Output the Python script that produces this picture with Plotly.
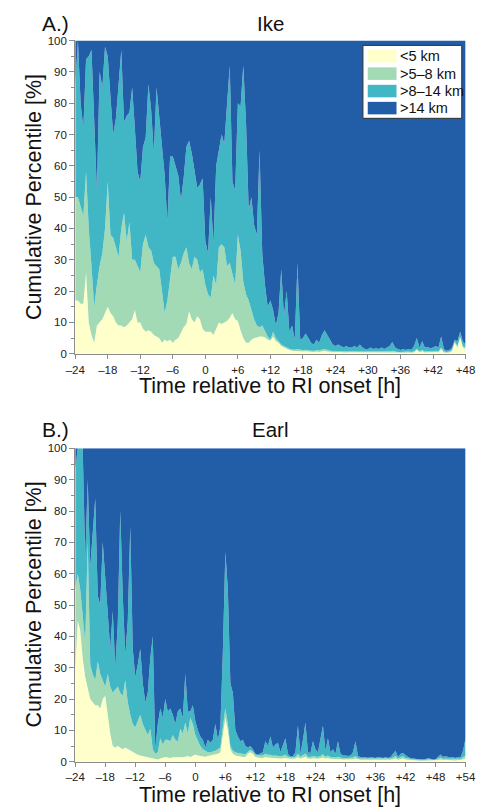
import numpy as np
import plotly.graph_objects as go

# ---------------- data ----------------
ike_time = np.arange(-24, 48.01, 0.5)
earl_time = np.arange(-24, 54.01, 0.5)

TOTAL = 100

# Ike cumulative percentiles (upper edge of each class)
ike_lt5 = [17, 17, 16, 16, 26, 10, 6, 3.5, 9, 10,
           11, 13, 15, 13, 12, 10, 9, 9, 8.5, 9,
           10, 11, 14, 10, 10, 8, 7, 7.5, 7, 6,
           5.5, 5, 3.5, 4.5, 4, 4.5, 3.5, 4.5, 5, 7,
           8.5, 9.5, 13.5, 11, 10, 12, 11, 8, 7,
           7, 7, 6, 8, 10, 9.5, 10, 10.5, 11.5, 13,
           11, 10.5, 7.5, 5, 3.5, 3.5, 4.5, 5, 5.2, 5.5,
           5.5, 5.2, 4.5, 4.2,
           5.5, 4, 3.5, 2.5, 2, 1.5, 1.2, 1, 0.9, 0.8,
           0.8, 0.7, 0.8, 0.7, 0.6, 0.6, 0.7, 0.6, 0.8, 0.9,
           0.7, 0.6, 0.5, 0.5, 0.6, 0.5, 0.5, 0.4, 0.5, 0.5,
           0.5, 0.4, 0.5, 0.4, 0.4, 0.4, 0.5, 0.4, 0.4, 0.4,
           0.5, 0.4, 0.4, 0.5, 0.6, 0.4, 0.4, 0.3, 0.4, 0.3,
           0.4, 0.3, 0.5, 1.2, 0.5, 0.8, 0.4, 0.5, 0.4, 0.5,
           0.6, 0.5, 1.5, 0.4, 0.3, 0.4, 0.8, 3.5, 2, 5, 2, 1.5]
ike_lt8 = [50, 50, 47, 44, 58, 40, 28, 15, 22, 28,
           32, 40, 55, 38, 37, 34, 31, 40, 45, 36,
           42, 30, 30, 28, 26, 35, 38, 34, 33, 29,
           28, 27, 20, 13, 17, 24, 31, 31, 27, 29,
           32, 34, 29, 27, 31, 30, 26, 27, 22,
           19, 18, 25, 22, 34, 35, 34, 28, 29, 25,
           22, 38, 33, 23, 19, 17, 14, 11, 9, 8.5,
           9, 7, 5.5, 4.5,
           7, 5, 4, 3, 2.5, 2, 1.6, 1.4, 1.3, 1.5,
           1.2, 1.1, 1.3, 1.1, 1, 1, 1.1, 1, 1.3, 1.5,
           1.2, 1, 0.9, 0.9, 1, 0.9, 0.8, 0.7, 0.8, 0.8,
           0.8, 0.7, 0.8, 0.7, 0.7, 0.7, 0.8, 0.7, 0.7, 0.7,
           0.8, 0.7, 0.7, 0.8, 1, 0.7, 0.6, 0.6, 0.7, 0.6,
           0.7, 0.6, 0.8, 1.6, 0.8, 1.2, 0.7, 0.8, 0.7, 0.8,
           1, 0.8, 2, 0.7, 0.6, 0.7, 1.2, 4, 2.5, 5.5, 2.5, 2]
ike_lt14 = [85, 100, 80, 72, 94, 95, 97, 72, 52, 90,
            85, 98, 95, 82, 70, 75, 85, 97, 74, 76,
            77, 85, 72, 58, 55, 66, 69, 86, 78, 64,
            85, 76, 67, 57, 42, 63, 63, 60, 57, 49,
            56, 66, 68, 64, 58, 53, 54, 56, 36,
            32, 50, 35, 60, 65, 70, 67, 80, 92, 55,
            52, 80, 79, 92, 74, 46, 50, 41, 38, 65,
            32, 22, 15, 17,
            14, 9, 13, 27, 12, 20, 7, 9, 4.5, 29,
            4.5, 5, 6.5, 5, 3.5, 3, 4.5, 3.5, 6, 7.5,
            6, 4.5, 3, 2.5, 3, 2.5, 2, 2.5, 2, 2,
            2.5, 2, 3, 2, 1.5, 1.5, 2, 1.5, 1.8, 1.5,
            2, 1.5, 2, 2.5, 3.8, 2, 1.5, 1.2, 1.5, 1.2,
            1.5, 1.3, 2.5, 5, 2, 4, 2, 2.2, 1.8, 2,
            2.5, 2, 5.5, 1.5, 1, 1.2, 2, 4.5, 4, 7, 4, 3]

# Earl cumulative percentiles
earl_lt5 = [29, 45, 42, 33, 27, 23, 20, 19, 18, 18,
            17, 20, 21, 15, 9, 5, 4.5, 5, 4.5, 4,
            4.5, 4, 3.5, 3, 2.5, 2.2, 2, 1.8, 1.6, 1.5,
            1.2, 1, 0.8, 0.7, 1, 1.2, 1.5, 1.3, 1.2, 1.4,
            1.5, 1.6, 1.5, 1.4, 1.6, 1.8, 1.5, 2, 2.3,
            2, 1.8, 1.7, 1.6, 1.8, 2, 2, 2.2, 2.5, 3,
            8, 14, 10, 4, 2.5, 2,
            1.8, 1.6, 1.5, 1.5, 2.5, 3, 2.5, 1.5, 1.3, 1.2,
            1.2, 1.5, 1.3, 1.2, 1.1, 1.2, 1, 1, 1.1, 1.2,
            1, 0.9, 0.9, 1, 1.5, 1, 1.2, 1.6, 1, 0.9,
            1.1, 1, 0.9, 1.1, 1.4, 1, 1.2, 0.9, 0.9, 0.8,
            1, 0.8, 0.7, 0.7, 0.7, 0.7, 0.8, 1, 0.7, 0.6,
            0.6, 0.6, 0.5, 0.6, 0.5, 0.5, 0.6, 0.5, 0.5, 0.6,
            0.5, 0.6, 0.8, 1, 0.6, 0.9, 1, 0.7, 0.6, 0.5,
            0.4, 0.4, 0.4, 0.3, 0.3, 0.3, 0.4, 0.4, 0.3, 0.3,
            0.5, 0.7, 0.5, 0.6, 0.5, 0.5, 0.5, 0.4, 0.5, 0.5,
            0.8, 1]
earl_lt8 = [55, 60, 55, 45, 38, 70, 31, 28, 26, 32,
            28, 26, 24, 28, 24, 22, 23, 24, 22, 21,
            26, 19, 15, 12, 11, 13, 15, 12, 10, 8.5,
            10.5, 4, 2.5, 3, 7.5, 5.5, 7, 7, 6.5, 8.5,
            7, 6.5, 10.5, 9, 12.5, 9, 14, 12, 8.5,
            6.5, 5, 4, 3.5, 3, 3, 3.2, 3.5, 4, 4.5,
            11, 17, 12, 5, 3.5, 3,
            2.8, 2.6, 2.5, 2.4, 3.2, 3.8, 3.2, 2.2, 2, 2,
            2, 2.5, 2.2, 2.2, 1.9, 2, 1.8, 1.7, 1.9, 2.2,
            1.6, 1.4, 1.4, 1.6, 2.5, 1.6, 2, 2.6, 1.6, 1.5,
            1.8, 1.6, 1.5, 1.8, 2.4, 1.6, 2, 1.5, 1.5, 1.3,
            1.6, 1.3, 1.1, 1.1, 1.1, 1.1, 1.3, 1.8, 1.1, 1,
            1, 1, 0.9, 1, 0.9, 0.9, 1, 0.9, 0.9, 1,
            0.9, 1, 1.3, 1.8, 1, 1.5, 1.7, 1.2, 1, 0.8,
            0.7, 0.7, 0.6, 0.6, 0.5, 0.6, 0.8, 0.7, 0.5, 0.6,
            0.9, 1.3, 0.9, 1, 0.9, 0.9, 0.9, 0.7, 0.9, 0.9,
            1.5, 2]
earl_lt14 = [93, 100, 100, 100, 64, 90, 62, 74, 84, 53,
             50, 70, 58, 45, 36, 48, 30, 44, 80, 53,
             34, 45, 75, 36, 27, 31, 36, 25, 19, 22,
             33, 40, 4, 12, 17, 14, 20, 16, 17, 15,
             12, 16, 17, 14, 28, 16, 16, 18, 13,
             10, 8, 7, 4.5, 7, 6, 7, 12, 7, 11,
             35, 67, 55, 25, 22, 10,
             8, 6.5, 7, 5, 4.5, 5, 4, 2.5, 2.2, 2.5,
             3, 6.5, 5, 8, 4.5, 5.5, 6, 3, 5.5, 7.5,
             2.5, 1.6, 1.8, 3, 11.5, 2.5, 7, 12.5, 3, 2.8,
             6.5, 4, 3, 7, 11.5, 3.5, 7.5, 3, 4, 2.5,
             6.5, 2.5, 2, 2, 1.8, 2, 3, 6.5, 1.8, 1.5,
             1.5, 1.5, 1.2, 1.5, 1.3, 1.2, 1.5, 1.3, 1.2, 1.5,
             1.2, 1.5, 2.5, 3.5, 1.5, 2.5, 2.8, 2, 1.5, 1.2,
             1, 1, 0.8, 0.8, 0.7, 0.8, 1.2, 1, 0.7, 0.8,
             1.5, 2.3, 1.5, 1.8, 1.5, 1.5, 1.5, 1.2, 1.5, 1.5,
             3.5, 7.5]

categories = ["<5 km", ">5\u20138 km", ">8\u201314 km", ">14 km"]
legend_labels = ["&lt;5 km", "&gt;5\u20138 km", "&gt;8\u201314 km", "&gt;14 km"]
colors = ["#FFFFCC", "#A1DAB4", "#41B6C4", "#225EA8"]

ike_tickvals = [-24, -18, -12, -6, 0, 6, 12, 18, 24, 30, 36, 42, 48]
ike_ticktext = ["\u201324", "\u201318", "\u201312", "\u20136", "0", "+6", "+12",
                "+18", "+24", "+30", "+36", "+42", "+48"]
earl_tickvals = [-24, -18, -12, -6, 0, 6, 12, 18, 24, 30, 36, 42, 48, 54]
earl_ticktext = ["\u201324", "\u201318", "\u201312", "\u20136", "0", "+6", "+12",
                 "+18", "+24", "+30", "+36", "+42", "+48", "+54"]
y_tickvals = [0, 10, 20, 30, 40, 50, 60, 70, 80, 90, 100]
y_minorvals = [5, 15, 25, 35, 45, 55, 65, 75, 85, 95]

panel_titles = ["Ike", "Earl"]
panel_letters = ["A.)", "B.)"]
x_title = "Time relative to RI onset [h]"
y_title = "Cumulative Percentile [%]"

# ---------------- figure ----------------
W, H = 489, 812
FONT = "Liberation Sans, Arial, Helvetica, sans-serif"
AX = "#8c8c8c"

fig = go.Figure()

panels = [
    (ike_time, [ike_lt5, ike_lt8, ike_lt14], "x", "y"),
    (earl_time, [earl_lt5, earl_lt8, earl_lt14], "x2", "y2"),
]
for t, cums, xa, ya in panels:
    n = len(t)
    top = [TOTAL] * n
    series = [np.asarray(cums[0], float)]
    for c in cums[1:]:
        series.append(np.maximum(np.asarray(c, float), series[-1]))
    series.append(np.asarray(top, float))
    for k, yv in enumerate(series):
        fig.add_trace(go.Scatter(
            x=t, y=yv, mode="lines", name=categories[k],
            line=dict(width=0, color=colors[k]),
            fill="tozeroy" if k == 0 else "tonexty",
            fillcolor=colors[k], xaxis=xa, yaxis=ya,
            showlegend=False, hoverinfo="skip"))

xdom = [68 / W, 475 / W]
ydom_top = [1 - 353 / H, 1 - 35 / H]
ydom_bot = [1 - 767 / H, 1 - 449 / H]

common_x = dict(showline=True, linecolor=AX, linewidth=1, ticks="outside",
                ticklen=4, tickwidth=1, tickcolor=AX, showgrid=False,
                zeroline=False, ticklabelstandoff=1,
                tickfont=dict(size=11.5, color="#222", family=FONT))
common_y = dict(showline=True, linecolor=AX, linewidth=1, ticks="outside",
                ticklen=5, tickwidth=1, tickcolor=AX, showgrid=False,
                zeroline=False, range=[0, 100], tickvals=y_tickvals,
                minor=dict(tickvals=y_minorvals, ticks="outside", ticklen=3,
                           tickcolor=AX, showgrid=False),
                tickfont=dict(size=11.5, color="#222", family=FONT))

fig.update_layout(
    width=W, height=H, margin=dict(l=0, r=0, t=0, b=0),
    paper_bgcolor="white", plot_bgcolor="white", showlegend=False,
    font=dict(family=FONT, color="#111"),
    xaxis=dict(domain=xdom, anchor="y", range=[-24, 48],
               tickvals=ike_tickvals, ticktext=ike_ticktext, **common_x),
    yaxis=dict(domain=ydom_top, anchor="x", **common_y),
    xaxis2=dict(domain=xdom, anchor="y2", range=[-24, 54],
                tickvals=earl_tickvals, ticktext=earl_ticktext, **common_x),
    yaxis2=dict(domain=ydom_bot, anchor="x2", **common_y),
)

ann = []
# panel letters and titles
for letter, title, ypx in zip(panel_letters, panel_titles, [17.5, 430]):
    ann.append(dict(x=47 / W, y=1 - ypx / H, xref="paper", yref="paper",
                    text=letter, showarrow=False, xanchor="center", yanchor="middle",
                    font=dict(size=21, family=FONT, color="#111")))
    ann.append(dict(x=271.5 / W, y=1 - ypx / H, xref="paper", yref="paper",
                    text=title, showarrow=False, xanchor="center", yanchor="middle",
                    font=dict(size=20.5, family=FONT, color="#111")))
# axis titles
for ypx in [386, 801]:
    ann.append(dict(x=271 / W, y=1 - ypx / H, xref="paper", yref="paper",
                    text=x_title, showarrow=False, xanchor="center", yanchor="middle",
                    font=dict(size=21.5, family=FONT, color="#111")))
for ypx in [194, 607.5]:
    ann.append(dict(x=25 / W, y=1 - ypx / H, xref="paper", yref="paper",
                    text=y_title, showarrow=False, textangle=-90,
                    xanchor="center", yanchor="middle",
                    font=dict(size=21.5, family=FONT, color="#111")))

# legend (drawn manually to match swatch size)
shapes = [dict(type="rect", xref="paper", yref="paper",
               x0=368 / W, x1=471 / W, y0=1 - 114 / H, y1=1 - 40 / H,
               fillcolor="white", line=dict(color="#333", width=1))]
rows = [(44.3, 57.3), (62.3, 75.0), (80.0, 92.7), (97.3, 110.0)]
for (r0, r1), col, lab in zip(rows, colors, legend_labels):
    shapes.append(dict(type="rect", xref="paper", yref="paper",
                       x0=373 / W, x1=403 / W, y0=1 - r1 / H, y1=1 - r0 / H,
                       fillcolor=col, line=dict(width=0)))
    ann.append(dict(x=405 / W, y=1 - ((r0 + r1) / 2) / H, xref="paper", yref="paper",
                    text=lab, showarrow=False, xanchor="left", yanchor="middle",
                    font=dict(size=14.5, family=FONT, color="#111")))

fig.update_layout(annotations=ann, shapes=shapes)
fig.write_html(
    "out.html",
    config={"displayModeBar": False},
    post_script="document.body.style.margin='0px';"
                "document.documentElement.style.overflow='hidden';"
                "document.body.style.overflow='hidden';",
)
